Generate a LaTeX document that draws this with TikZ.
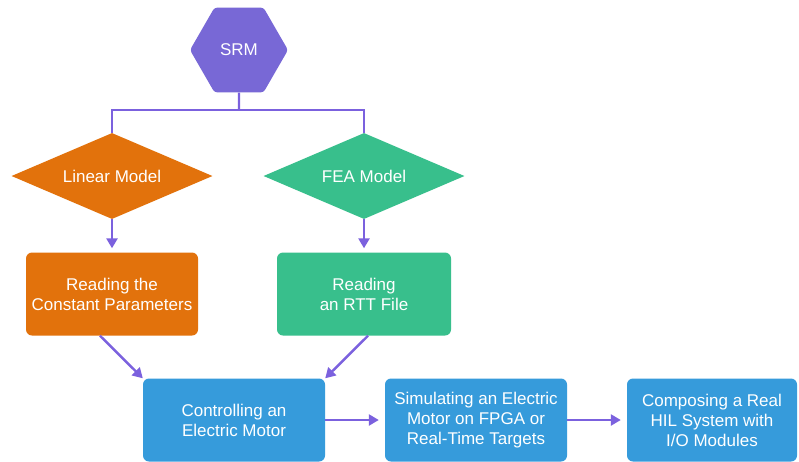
\documentclass[tikz,border=0pt]{standalone}
\usepackage{fontspec}
\setmainfont{Liberation Sans}
\usepackage{tikz}
\usetikzlibrary{shapes.geometric,arrows.meta}

\definecolor{srmpurple}{HTML}{7868D6}
\definecolor{linorange}{HTML}{E2720C}
\definecolor{feagreen}{HTML}{38BF8C}
\definecolor{stepblue}{HTML}{369BDB}
\definecolor{flowline}{HTML}{7B61DE}

\begin{document}
\begin{tikzpicture}[x=1pt,y=-1pt,
  every node/.style={text=white,font=\fontsize{17}{20}\selectfont,align=center,inner sep=0pt},
  hexnode/.style={regular polygon,regular polygon sides=6,minimum size=98pt,rounded corners=3pt,fill=srmpurple},
  modelnode/.style={diamond,aspect=2.34,minimum width=201pt,minimum height=86pt},
  stepnode/.style={rectangle,rounded corners=6pt,minimum height=83pt},
  wire/.style={draw=flowline,line width=2.4pt},
  flow/.style={wire,-{Triangle[length=10pt,width=11pt]}}]

\useasboundingbox[fill=white] (0,0) rectangle (799,461);

\node[hexnode] (srm) at (239,50) {SRM};

\node[modelnode,fill=linorange] (linear) at (112,176) {Linear Model};
\node[modelnode,fill=feagreen] (fea) at (364,176) {FEA Model};

\node[stepnode,fill=linorange,minimum width=172pt] (constant) at (112,294) {Reading the\\Constant Parameters};
\node[stepnode,fill=feagreen,minimum width=174pt] (rtt) at (364,294) {Reading\\an RTT File};

\node[stepnode,fill=stepblue,minimum width=182pt] (control) at (234,420) {Controlling an\\Electric Motor};
\node[stepnode,fill=stepblue,minimum width=182pt] (simulate) at (476,420) {Simulating an Electric\\Motor on FPGA or\\Real-Time Targets};
\node[stepnode,fill=stepblue,minimum width=170pt] (hil) at (712,420) {Composing a Real\\HIL System with\\I/O Modules};

\coordinate (fork) at (239,110);
\draw[wire] (srm.south) -- (fork);
\draw[wire] (linear.north) |- (fork) -| (fea.north);

\draw[flow,shorten >=4pt] (linear.south) -- (constant.north);
\draw[flow,shorten >=4pt] (fea.south) -- (rtt.north);

\draw[flow] ([xshift=-12pt]constant.south) -- (control.north west);
\draw[flow] ([xshift=4pt]rtt.south) -- (control.north east);

\draw[flow,shorten >=6pt] (control.east) -- (simulate.west);
\draw[flow,shorten >=6pt] (simulate.east) -- (hil.west);

\end{tikzpicture}
\end{document}
